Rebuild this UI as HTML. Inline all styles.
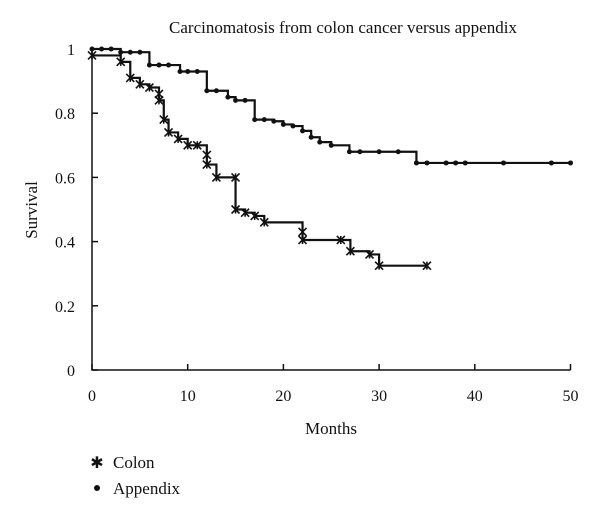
<!DOCTYPE html>
<html><head><meta charset="utf-8"><style>
body{margin:0;background:#fff;width:600px;height:521px;overflow:hidden}
text{font-family:"Liberation Serif",serif;fill:#111}
</style></head><body>
<svg id="chart" width="600" height="521" xmlns="http://www.w3.org/2000/svg">
<text x="343" y="33" font-size="17" text-anchor="middle">Carcinomatosis from colon cancer versus appendix</text>
<g id="axes"></g>
<g id="series"></g>
<text x="331" y="434" font-size="17" text-anchor="middle">Months</text>
<text transform="translate(37,210) rotate(-90)" font-size="17" text-anchor="middle">Survival</text>
<g>
<text x="97" y="468" font-size="16" text-anchor="middle">✱</text>
<text x="113" y="468" font-size="17">Colon</text></g>
<g>
<circle cx="97" cy="488" r="3" fill="#111"/>
<text x="113" y="494" font-size="17">Appendix</text></g>
</svg>
<script>
const xTicks=[0,10,20,30,40,50];
const yTicks=[0,0.2,0.4,0.6,0.8,1];
const yTickLabels=["0","0.2","0.4","0.6","0.8","1"];
const colonTimes=[0,3,4,5,6,7,7,7.5,8,9,10,11,12,12,13,15,15,16,17,18,22,22,26,27,29,30,35];
const colonSurv=[0.98,0.96,0.91,0.89,0.88,0.86,0.84,0.78,0.74,0.72,0.70,0.70,0.67,0.64,0.60,0.60,0.50,0.49,0.48,0.46,0.43,0.405,0.405,0.37,0.36,0.325,0.325];
const appTimes=[0,1,2,3,4,5,6,7,8,9.2,10,11,12,13,14.2,15,16,17,18,19,20,21,22,22.9,23.8,25,26.9,28,30,32,33.9,35,37,38,39,43,48,50];
const appSurv=[1,1,1,0.99,0.99,0.99,0.95,0.95,0.95,0.93,0.93,0.93,0.87,0.87,0.85,0.84,0.84,0.78,0.78,0.775,0.765,0.76,0.745,0.725,0.71,0.70,0.68,0.68,0.68,0.68,0.645,0.645,0.645,0.645,0.645,0.645,0.645,0.645];
const X=t=>92+t*9.57, Y=s=>370-s*321;
const NS="http://www.w3.org/2000/svg";
function mk(tag,attrs,parent){const e=document.createElementNS(NS,tag);for(const k in attrs)e.setAttribute(k,attrs[k]);parent.appendChild(e);return e;}
const ax=document.getElementById('axes');
let a=mk('path',{d:`M${X(0)},${Y(1)}V${Y(0)}H${X(50)}`,stroke:'#111','stroke-width':1.5,fill:'none'},ax);


xTicks.forEach(t=>{
 const l=mk('line',{x1:X(t),x2:X(t),y1:Y(0),y2:Y(0)-6,stroke:'#111','stroke-width':1.5},ax);
 
 
 const tx=mk('text',{x:X(t),y:Y(0)+31,'font-size':16,'text-anchor':'middle'},ax);tx.textContent=t;
 
 
});
yTicks.forEach((v,i)=>{
 const l=mk('line',{x1:X(0),x2:X(0)+6,y1:Y(v),y2:Y(v),stroke:'#111','stroke-width':1.5},ax);
 
 
 const tx=mk('text',{x:X(0)-17,y:Y(v)+6,'font-size':16,'text-anchor':'end'},ax);tx.textContent=yTickLabels[i];
 
 
});
const sg=document.getElementById('series');
function step(ts,ss){let d=`M${X(ts[0])},${Y(ss[0])}`;for(let i=1;i<ts.length;i++){d+=`H${X(ts[i])}V${Y(ss[i])}`;}return d;}
let p=mk('path',{d:step(appTimes,appSurv),stroke:'#111','stroke-width':2.2,fill:'none'},sg);


appTimes.forEach((t,i)=>{const c=mk('circle',{cx:X(t),cy:Y(appSurv[i]),r:2.5,fill:'#111'},sg);
 
 });
p=mk('path',{d:step(colonTimes,colonSurv),stroke:'#111','stroke-width':2.2,fill:'none'},sg);


colonTimes.forEach((t,i)=>{const x=X(t),y=Y(colonSurv[i]);
 const m=mk('path',{d:`M${x-4},${y-4}L${x+4},${y+4}M${x-4},${y+4}L${x+4},${y-4}M${x},${y-4}V${y+4}`,stroke:'#111','stroke-width':1.6},sg);
 
 });
</script>
</body></html>
